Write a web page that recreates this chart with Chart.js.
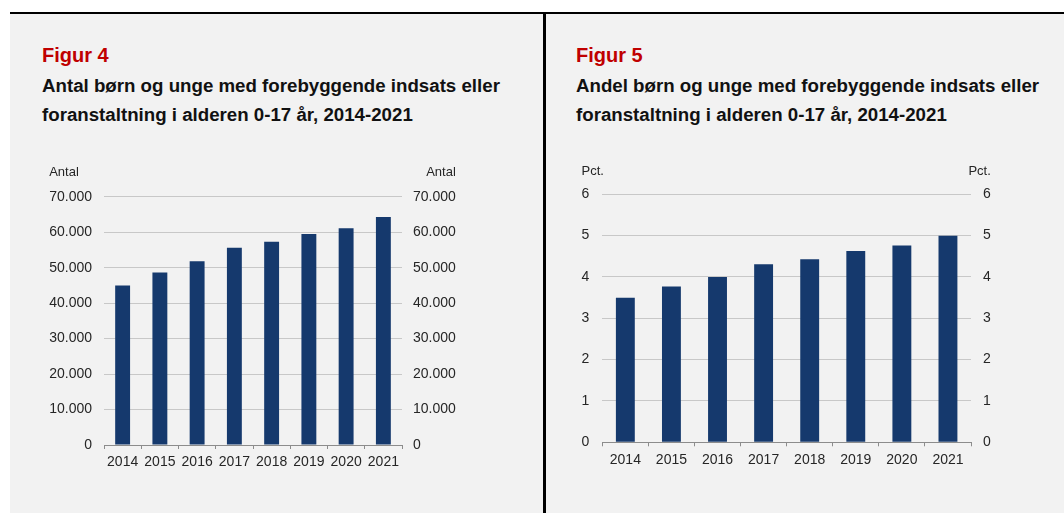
<!DOCTYPE html>
<html lang="da">
<head>
<meta charset="utf-8">
<script src="https://cdn.jsdelivr.net/npm/chart.js@4"></script>
<style>
  body { margin: 0; background: #fff; font-family: "Liberation Sans", Arial, sans-serif; }
  .linje { position: absolute; background: #000; }
  .panel { position: absolute; top: 14px; height: 499px; background: #f2f2f2; }
  .figur { position: absolute; top: 45px; font-size: 20px; line-height: 20px; font-weight: bold; color: #c00000; }
  .titel { position: absolute; top: 72.4px; font-size: 18.7px; line-height: 28.5px; font-weight: bold; color: #111; white-space: nowrap; }
  .boks { position: absolute; top: 150px; height: 330px; }
</style>
</head>
<body>
<div class="panel" style="left:10px;width:533px"></div>
<div class="panel" style="left:545px;width:519px"></div>
<div class="linje" style="left:10px;top:12px;width:1054px;height:2px"></div>
<div class="linje" style="left:543px;top:12px;width:2.5px;height:501px"></div>

<div class="figur" style="left:42px">Figur 4</div>
<div class="titel" style="left:42px">Antal børn og unge med forebyggende indsats eller<br>foranstaltning i alderen 0-17 år, 2014-2021</div>
<div class="figur" style="left:576px">Figur 5</div>
<div class="titel" style="left:576px">Andel børn og unge med forebyggende indsats eller<br>foranstaltning i alderen 0-17 år, 2014-2021</div>

<div class="boks" style="left:20px;width:470px"><canvas id="antalChart"></canvas></div>
<div class="boks" style="left:555px;width:480px"><canvas id="andelChart"></canvas></div>

<script>
const aar = ['2014', '2015', '2016', '2017', '2018', '2019', '2020', '2021'];
const antal = [45000, 48600, 51800, 55600, 57300, 59500, 61100, 64300];
const andel = [3.5, 3.77, 4.0, 4.31, 4.43, 4.63, 4.76, 5.0];
const antalMax = 70000;
const antalStep = 10000;
const andelMax = 6;
const andelStep = 1;

const BAR_FARVE = '#15396d';
const TEKST = '#262626';

Chart.defaults.font.family = '"Liberation Sans", Arial, sans-serif';
Chart.defaults.font.size = 14;
Chart.defaults.color = TEKST;

const tusind = v => String(v).replace(/\B(?=(\d{3})+(?!\d))/g, '.');

// tegner "Antal"/"Pct." over hver y-akse, flugter med ydersiden af etiketterne
const aksetitel = {
    id: 'aksetitel',
    afterDraw(chart, args, opts) {
        const ctx = chart.ctx;
        ctx.save();
        ['y', 'y1'].forEach(id => {
            const s = chart.scales[id];
            ctx.font = '14px "Liberation Sans", Arial, sans-serif';
            const bredest = Math.max(...s.ticks.map(t => ctx.measureText(String(t.label)).width));
            const pad = s.options.ticks.padding;
            ctx.font = '13px "Liberation Sans", Arial, sans-serif';
            ctx.fillStyle = TEKST;
            ctx.textBaseline = 'middle';
            const y = chart.chartArea.top - opts.afstand;
            if (s.position === 'left') {
                ctx.textAlign = 'left';
                ctx.fillText(opts.tekst, s.right - pad - bredest, y);
            } else {
                ctx.textAlign = 'right';
                ctx.fillText(opts.tekst, s.left + pad + bredest, y);
            }
        });
        ctx.restore();
    }
};

function lavGraf(canvasId, data, max, step, format, mål) {
    const yAkse = (position, pad, bredde, medGitter) => ({
        axis: 'y',
        position: position,
        min: 0,
        max: max,
        afterFit: s => { s.width = bredde; },
        ticks: { stepSize: step, padding: pad, callback: format, color: TEKST },
        grid: medGitter
            ? { color: '#c8c8c8', drawTicks: false }
            : { display: false, drawTicks: false },
        border: { display: false }
    });

    return new Chart(document.getElementById(canvasId), {
        type: 'bar',
        data: {
            labels: aar,
            datasets: [{
                data: data,
                backgroundColor: BAR_FARVE,
                borderWidth: 0,
                categoryPercentage: 1,
                barPercentage: mål.barAndel,
                yAxisID: 'y'
            }]
        },
        options: {
            responsive: true,
            maintainAspectRatio: false,
            animation: false,
            layout: { padding: { top: mål.top, left: 0, right: 0, bottom: 0 } },
            plugins: {
                legend: { display: false },
                tooltip: { enabled: false },
                aksetitel: mål.titel
            },
            scales: {
                x: {
                    afterFit: s => { s.height = mål.xHoejde; },
                    grid: { offset: true, drawOnChartArea: false, tickLength: 4, color: '#8c8c8c' },
                    border: { color: '#8c8c8c' },
                    ticks: { padding: 5, color: TEKST, maxRotation: 0, autoSkip: false }
                },
                y: yAkse('left', mål.padV, mål.venstre, true),
                y1: yAkse('right', mål.padH, mål.hoejre, false)
            }
        },
        plugins: [aksetitel]
    });
}

lavGraf('antalChart', antal, antalMax, antalStep, v => tusind(v), {
    top: 46.7, xHoejde: 35, venstre: 84, hoejre: 88, padV: 12, padH: 11,
    barAndel: 0.4, titel: { tekst: 'Antal', afstand: 24.5 }
});

lavGraf('andelChart', andel, andelMax, andelStep, v => v, {
    top: 44.3, xHoejde: 37.7, venstre: 47.3, hoejre: 64, padV: 13, padH: 12,
    barAndel: 0.41, titel: { tekst: 'Pct.', afstand: 22.6 }
});
</script>
</body>
</html>
